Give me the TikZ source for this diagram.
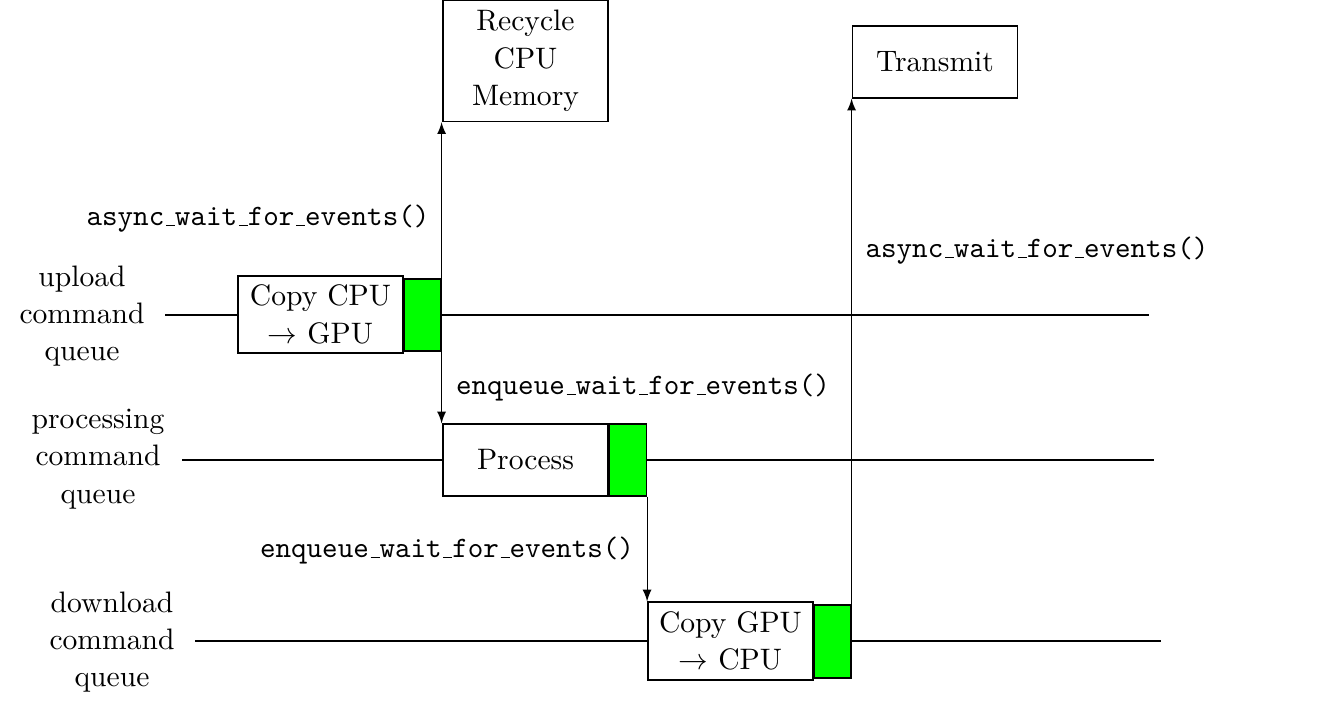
\documentclass[tikz,border=0pt]{standalone}
\usetikzlibrary{arrows}
\newcommand\uscore{\leavevmode\kern.06em\vbox{\hrule width.3em}}
\begin{document}
\begin{tikzpicture}[x=0.3378pt,y=-0.3378pt,
  txt/.style={font={\fontsize{10}{12.6}\selectfont}},
  box/.style={draw,fill=white,txt,align=center,minimum width=55.7pt,minimum height=24.3pt,inner sep=2pt},
  evt/.style={draw,fill=green,minimum width=12.5pt,minimum height=24.3pt,inner sep=0pt},
  qlabel/.style={txt,align=center},
  call/.style={font={\fontsize{10}{12}\selectfont\ttfamily}},
  arr/.style={-latex}]
\useasboundingbox (0,0) rectangle (1326,702);
% queue lines
\coordinate (u0) at (165,315); \coordinate (u1) at (1149,315);
\coordinate (p0) at (182,460); \coordinate (p1) at (1154,460);
\coordinate (d0) at (195,641); \coordinate (d1) at (1161,641);
\draw (u0) -- (u1);
\draw (p0) -- (p1);
\draw (d0) -- (d1);
% queue labels
\node[qlabel] (ul) at (82,316) {upload\\command\\queue};
\node[qlabel] (pl) at (98,459) {processing\\command\\queue};
\node[qlabel] (dl) at (112,642) {download\\command\\queue};
% boxes
\node[box,minimum height=40.9pt] (recycle) at (525.5,61) {Recycle\\CPU\\Memory};
\node[box] (transmit) at (935,62) {Transmit};
\node[box,minimum height=26pt] (copy1) at (320.5,314.5) {Copy CPU\\$\rightarrow$ GPU};
\node[evt] (g1) at (422.5,315) {};
\node[box] (process) at (525.5,460) {Process};
\node[evt] (g2) at (628,460) {};
\node[box,minimum height=26.3pt] (copy2) at (730.5,641) {Copy GPU\\$\rightarrow$ CPU};
\node[evt,minimum height=24.7pt] (g3) at (832.5,641.5) {};
% arrows
\draw[arr] (g1.north east) -- (g1.north east |- recycle.south);
\draw[arr] (g1.south east) -- (g1.south east |- process.north);
\draw[arr] (g2.south east) -- (g2.south east |- copy2.north);
\draw[arr] (g3.north east) -- (g3.north east |- transmit.south);
% call labels
\node[call] (c1) at (258,219) {async\uscore wait\uscore for\uscore events()};
\node[call] (c2) at (643,388) {enqueue\uscore wait\uscore for\uscore events()};
\node[call] (c3) at (447,551) {enqueue\uscore wait\uscore for\uscore events()};
\node[call] (c4) at (1037,251) {async\uscore wait\uscore for\uscore events()};
\end{tikzpicture}
\end{document}
